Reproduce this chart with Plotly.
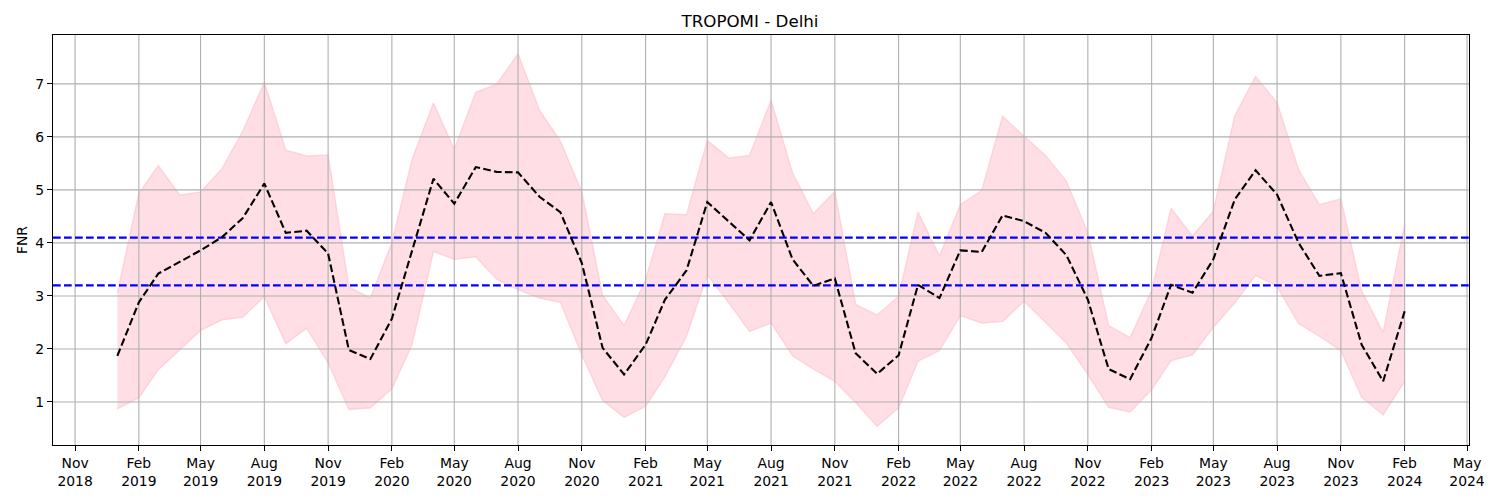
import pandas as pd
import plotly.graph_objects as go

months = pd.date_range("2019-01-01", periods=62, freq="MS")

fnr_mean = [1.87, 2.88, 3.42, 3.65, 3.86, 4.11, 4.47, 5.12, 4.19, 4.23, 3.80, 1.98,
            1.81, 2.57, 3.85, 5.21, 4.74, 5.43, 5.34, 5.33, 4.87, 4.58, 3.62, 2.02,
            1.52, 2.08, 2.93, 3.48, 4.77, 4.41, 4.05, 4.77, 3.69, 3.19, 3.33, 1.92,
            1.53, 1.88, 3.21, 2.96, 3.86, 3.83, 4.52, 4.41, 4.19, 3.77, 2.93, 1.62,
            1.43, 2.21, 3.21, 3.06, 3.69, 4.82, 5.37, 4.91, 4.00, 3.38, 3.43, 2.08,
            1.39, 2.71]
fnr_upper = [3.06, 4.93, 5.46, 4.90, 4.96, 5.40, 6.11, 7.03, 5.75, 5.64, 5.66, 3.17,
             2.96, 4.00, 5.57, 6.64, 5.76, 6.84, 6.99, 7.57, 6.50, 5.92, 4.96, 3.01,
             2.44, 3.30, 4.55, 4.53, 5.93, 5.60, 5.65, 6.69, 5.32, 4.55, 4.97, 2.84,
             2.64, 2.99, 4.58, 3.75, 4.72, 4.99, 6.39, 6.01, 5.65, 5.16, 4.19, 2.44,
             2.21, 3.10, 4.65, 4.13, 4.60, 6.40, 7.14, 6.64, 5.38, 4.72, 4.83, 3.09,
             2.31, 4.35]
fnr_lower = [0.87, 1.08, 1.61, 1.99, 2.35, 2.55, 2.60, 2.99, 2.10, 2.39, 1.74, 0.86,
             0.89, 1.25, 2.08, 3.84, 3.69, 3.74, 3.32, 3.12, 2.96, 2.88, 1.89, 1.03,
             0.71, 0.92, 1.48, 2.24, 3.40, 2.87, 2.33, 2.49, 1.87, 1.62, 1.39, 0.99,
             0.54, 0.89, 1.77, 1.97, 2.63, 2.49, 2.52, 2.90, 2.50, 2.11, 1.52, 0.90,
             0.81, 1.23, 1.78, 1.89, 2.41, 2.87, 3.39, 3.18, 2.48, 2.24, 1.97, 1.09,
             0.76, 1.39]
thresholds = [4.1, 3.2]

tick_dates = pd.date_range("2018-11-01", "2024-05-01", freq="3MS")
tick_text = [d.strftime("%b") + "<br>" + d.strftime("%Y") for d in tick_dates]
y_ticks = [1, 2, 3, 4, 5, 6, 7]

# matplotlib-like 5% margins
span = months[-1] - months[0]
x_range = [months[0] - span * 0.05, months[-1] + span * 0.05]
ymin, ymax = min(fnr_lower), max(fnr_upper)
yspan = ymax - ymin
y_range = [ymin - 0.05 * yspan, ymax + 0.05 * yspan]

DASH = "7.7px,3.3px"
GRID = "#b0b0b0"

fig = go.Figure()
# shaded band (drawn first, under the grid like matplotlib)
fig.add_trace(go.Scatter(x=months, y=fnr_upper, mode="lines",
                         line=dict(color="rgba(255,192,203,0.6)", width=1.4),
                         showlegend=False, hoverinfo="skip"))
fig.add_trace(go.Scatter(x=months, y=fnr_lower, mode="lines", fill="tonexty",
                         fillcolor="rgba(255,192,203,0.5)",
                         line=dict(color="rgba(255,192,203,0.6)", width=1.4),
                         showlegend=False, hoverinfo="skip"))

# grid lines above the band but below the lines (matplotlib zorder)
gx, gy = [], []
for d in tick_dates:
    gx += [d, d, None]
    gy += [y_range[0], y_range[1], None]
for v in y_ticks:
    gx += [x_range[0], x_range[1], None]
    gy += [v, v, None]
fig.add_trace(go.Scatter(x=gx, y=gy, mode="lines", line=dict(color=GRID, width=1.1),
                         showlegend=False, hoverinfo="skip", cliponaxis=True))

for t in thresholds:
    fig.add_trace(go.Scatter(x=[x_range[0], x_range[1]], y=[t, t], mode="lines",
                             line=dict(color="blue", width=2.1, dash=DASH),
                             showlegend=False))
fig.add_trace(go.Scatter(x=months, y=fnr_mean, mode="lines",
                         line=dict(color="black", width=2.1, dash=DASH),
                         showlegend=False))

axis_common = dict(showline=True, linecolor="black", linewidth=1.1, mirror=True,
                   showgrid=False,
                   ticks="outside", ticklen=5, tickwidth=1.1, tickcolor="black",
                   zeroline=False,
                   tickfont=dict(family="DejaVu Sans", size=13.9, color="black"))

fig.update_layout(
    width=1500, height=500,
    margin=dict(l=53, r=31, t=35, b=55),
    paper_bgcolor="white", plot_bgcolor="white",
    title=dict(text="TROPOMI - Delhi", x=0.5, xanchor="center", y=1 - 21 / 500,
               yanchor="middle",
               font=dict(family="DejaVu Sans", size=16.7, color="black")),
    xaxis=dict(range=x_range, tickvals=tick_dates, ticktext=tick_text, **axis_common),
    yaxis=dict(range=y_range, tickvals=y_ticks,
               title=dict(text="FNR", font=dict(family="DejaVu Sans", size=13.9, color="black"),
                          standoff=4),
               **axis_common),
)

fig.write_html("out.html", config={"displayModeBar": False},
               post_script="document.body.style.margin='0';document.body.style.overflow='hidden';")
